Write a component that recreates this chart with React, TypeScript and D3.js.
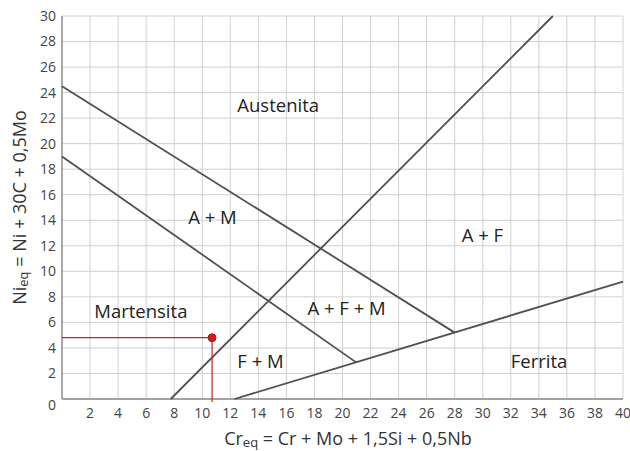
import React from "react";
import * as d3 from "d3";

const xTicks = [2, 4, 6, 8, 10, 12, 14, 16, 18, 20, 22, 24, 26, 28, 30, 32, 34, 36, 38, 40];
const yTicks = [0, 2, 4, 6, 8, 10, 12, 14, 16, 18, 20, 22, 24, 26, 28, 30];

// boundary lines [x1, y1, x2, y2] in data units
const boundaryA = [0, 24.5, 28, 5.2];
const boundaryM = [0, 19, 21, 2.85];
const boundaryAF = [7.75, 0, 35, 30];
const boundaryF = [12.3, 0, 40, 9.2];
const boundaries = [boundaryA, boundaryM, boundaryAF, boundaryF];

const pointX = 10.7;
const pointY = 4.8;

const regionNames = ["Austenita", "A + M", "A + F", "Martensita", "A + F + M", "F + M", "Ferrita"];
const regionX = [12.5, 9, 28.5, 2.3, 17.5, 12.5, 32];
const regionY = [23, 14.2, 12.8, 6.85, 7.1, 2.9, 2.9];

const W = 630;
const H = 451;

export default function App() {
  const x = d3.scaleLinear().domain([0, 40]).range([62, 623]);
  const y = d3.scaleLinear().domain([0, 30]).range([399, 16]);
  const font = "'Open Sans', 'Noto Sans', sans-serif";
  const line = d3.line<[number, number]>().x((d) => x(d[0])).y((d) => y(d[1]));

  return (
    <svg width={W} height={H} style={{ position: "absolute", left: 0, top: 0, background: "#fff" }}>
      <rect width={W} height={H} fill="#fff" />
      {xTicks.map((t) => (
        <line key={"gx" + t} x1={x(t)} x2={x(t)} y1={y(0)} y2={y(30)} stroke="#d0d0d0" strokeWidth={1} />
      ))}
      {yTicks.map((t) => (
        <line key={"gy" + t} x1={x(0)} x2={x(40)} y1={y(t)} y2={y(t)} stroke="#d0d0d0" strokeWidth={1} />
      ))}
      <line x1={x(0)} x2={x(0)} y1={y(0)} y2={y(30)} stroke="#8c8c8c" strokeWidth={1.5} />
      <line x1={x(0)} x2={x(40)} y1={y(0)} y2={y(0)} stroke="#8c8c8c" strokeWidth={1.5} />

      {boundaries.map((b, i) => (
        <path
          key={"b" + i}
          d={line([[b[0], b[1]], [b[2], b[3]]]) || ""}
          stroke="#505050"
          strokeWidth={1.8}
          fill="none"
        />
      ))}

      <path d={line([[0, pointY], [pointX, pointY], [pointX, 0]]) || ""} stroke="#c0262a" strokeWidth={1.2} fill="none" />
      <line x1={x(pointX)} x2={x(pointX)} y1={y(0)} y2={y(0) + 3} stroke="#c0262a" strokeWidth={1.2} />
      <circle cx={x(pointX)} cy={y(pointY)} r={4} fill="#d71920" stroke="#8a1010" strokeWidth={0.8} />

      {yTicks.map((t) => (
        <text
          key={"ty" + t}
          x={56}
          y={y(t) + (t === 0 ? 6 : 0)}
          dy="0.35em"
          textAnchor="end"
          fontFamily={font}
          fontSize={14}
          fill="#444"
        >
          {t}
        </text>
      ))}
      {xTicks.map((t) => (
        <text key={"tx" + t} x={x(t)} y={413} dy="0.35em" textAnchor="middle" fontFamily={font} fontSize={14} fill="#444">
          {t}
        </text>
      ))}

      {regionNames.map((n, i) => (
        <text key={"r" + i} x={x(regionX[i])} y={y(regionY[i])} dy="0.35em" fontFamily={font} fontSize={18.5} fill="#222">
          {n}
        </text>
      ))}

      <text x={348} y={445} textAnchor="middle" fontFamily={font} fontSize={18} fill="#333">
        <tspan>Cr</tspan>
        <tspan fontSize={13} dy="1.5">eq</tspan>
        <tspan dy="-1.5"> = Cr + Mo + 1,5Si + 0,5Nb</tspan>
      </text>
      <text
        transform={`translate(20, ${y(15)}) rotate(-90)`}
        textAnchor="middle"
        dy="0.35em"
        fontFamily={font}
        fontSize={18}
        fill="#333"
      >
        <tspan>Ni</tspan>
        <tspan fontSize={13} dy="1.5">eq</tspan>
        <tspan dy="-1.5"> = Ni + 30C + 0,5Mo</tspan>
      </text>
    </svg>
  );
}
